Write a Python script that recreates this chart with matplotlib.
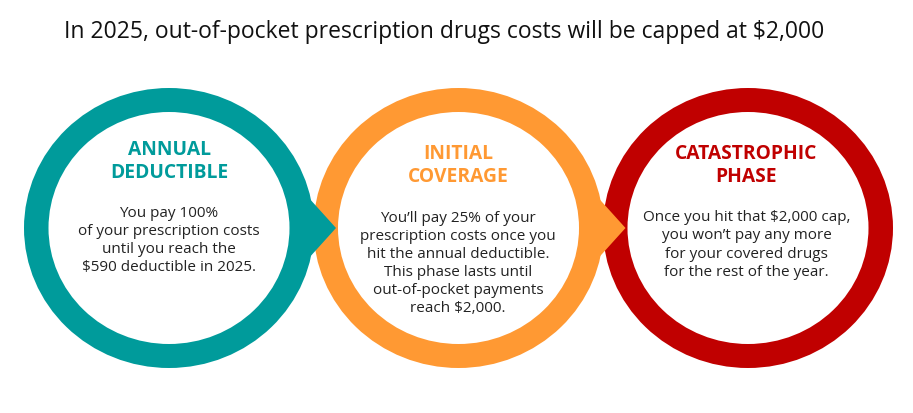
import matplotlib
matplotlib.use("Agg")
import matplotlib.pyplot as plt
from matplotlib.patches import Ellipse, Polygon

W, H = 913, 413
title = "In 2025, out-of-pocket prescription drugs costs will be capped at $2,000"
headings = ["ANNUAL\nDEDUCTIBLE", "INITIAL\nCOVERAGE", "CATASTROPHIC\nPHASE"]
bodies = [
    "You pay 100%\nof your prescription costs\nuntil you reach the\n$590 deductible in 2025.",
    "You\u2019ll pay 25% of your\nprescription costs once you\nhit the annual deductible.\nThis phase lasts until\nout-of-pocket payments\nreach $2,000.",
    "Once you hit that $2,000 cap,\nyou won\u2019t pay any more\nfor your covered drugs\nfor the rest of the year.",
]
colors = ["#009B9B", "#FF9933", "#C00000"]
centers = [(169, 228), (458.5, 228), (748, 228)]
text_x = [169, 458, 746.5]
heading_y = [161.5, 165.5, 165.5]
body_y = [240.5, 263.5, 245]
outer = (290, 280)
inner = (241, 232)

plt.rcParams["font.family"] = ["Open Sans", "DejaVu Sans"]
fig = plt.figure(figsize=(W/100, H/100), dpi=100)
ax = fig.add_axes([0, 0, 1, 1])
ax.set_xlim(0, W); ax.set_ylim(H, 0); ax.axis("off")

for i in (2, 1, 0):
    (cx, cy), c = centers[i], colors[i]
    z = 1 + (2 - i)
    ax.add_patch(Ellipse((cx, cy), *outer, fc=c, ec="none", zorder=z))
    ax.add_patch(Ellipse((cx, cy), *inner, fc="white", ec="none", zorder=z))
    if i < 2:
        ax.add_patch(Polygon([(cx + 125, cy - 36), (cx + 139, cy - 31), (cx + 167, cy),
                              (cx + 139, cy + 31), (cx + 125, cy + 36)],
                             closed=True, fc=c, ec="none", zorder=5))
for i in range(3):
    ax.text(text_x[i], heading_y[i], headings[i], color=colors[i], fontsize=13.9, fontweight="bold",
            ha="center", va="center", linespacing=1.23, zorder=6)
    ax.text(text_x[i], body_y[i], bodies[i], color="#222222", fontsize=10.95,
            ha="center", va="center", linespacing=1.29, zorder=6)
ax.text(444.5, 32.5, title, color="#111111", fontsize=16.45, ha="center", va="center")
fig.savefig("out.png", dpi=100, facecolor="white")
